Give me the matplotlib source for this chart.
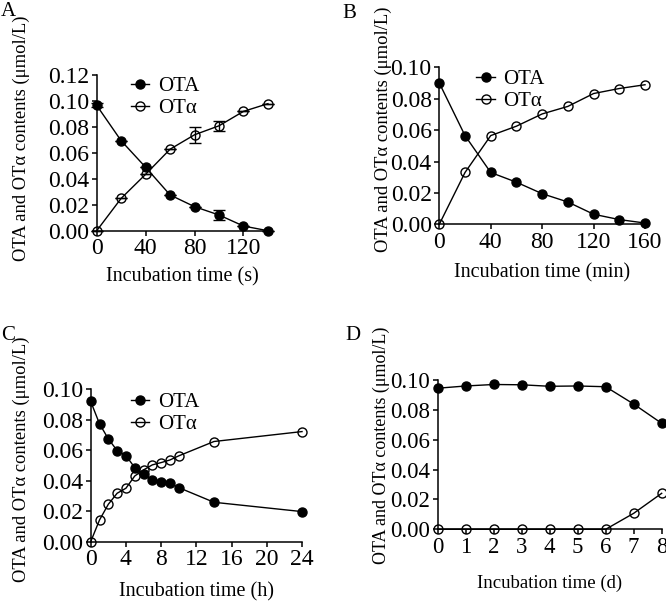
import numpy as np
import matplotlib
matplotlib.use('Agg')
import matplotlib.pyplot as plt

plt.rcParams['font.family'] = ['Liberation Serif', 'DejaVu Serif']
plt.rcParams['axes.unicode_minus'] = False

# Panel A: incubation time in seconds
t_a = [0, 20, 40, 60, 80, 100, 120, 140]
ota_a = [0.0964, 0.0692, 0.0488, 0.0275, 0.0185, 0.0121, 0.0036, 0.0000]
ota_a_err = [0.0015, 0.0, 0.0, 0.0, 0.0, 0.0036, 0.0, 0.0]
otal_a = [0.0000, 0.0249, 0.0434, 0.0627, 0.0738, 0.0807, 0.0918, 0.0977]
otal_a_err = [0.0, 0.0, 0.0, 0.0, 0.0062, 0.0039, 0.0, 0.0]

# Panel B: incubation time in minutes
t_b = [0, 20, 40, 60, 80, 100, 120, 140, 160]
ota_b = [0.0900, 0.0565, 0.0330, 0.0268, 0.0195, 0.0142, 0.0064, 0.0030, 0.0008]
otal_b = [0.0000, 0.0330, 0.0565, 0.0625, 0.0703, 0.0751, 0.0833, 0.0865, 0.0889]

# Panel C: incubation time in hours
t_c = [0, 1, 2, 3, 4, 5, 6, 7, 8, 9, 10, 14, 24]
ota_c = [0.0918, 0.0772, 0.0673, 0.0597, 0.0564, 0.0485, 0.0442, 0.0407,
         0.0393, 0.0383, 0.0354, 0.0258, 0.0197]
otal_c = [0.0000, 0.0142, 0.0245, 0.0317, 0.0350, 0.0430, 0.0470, 0.0503,
          0.0518, 0.0535, 0.0562, 0.0656, 0.0721]

# Panel D: incubation time in days
t_d = [0, 1, 2, 3, 4, 5, 6, 7, 8]
ota_d = [0.0945, 0.0960, 0.0970, 0.0968, 0.0958, 0.0960, 0.0955, 0.0839, 0.0710]
otal_d = [0, 0, 0, 0, 0, 0, 0, 0.0107, 0.0241]

fig = plt.figure(figsize=(6.66, 6.01), dpi=100)

panels = [
    # letter, rect, x, ota, otal, ota_err, otal_err, xlim, xticks, ylim, xlabel,
    # legend anchor, ylabel pos, xlabel y, xlabel size, ylabel size, tick size
    ('A', [0.1452, 0.6161, 0.2571, 0.2596], t_a, ota_a, otal_a, ota_a_err, otal_a_err,
     140, [0, 40, 80, 120], 0.12, 'Incubation time (s)', (0.15, 1.04), (-0.44, 0.59), -0.297, 14.5, 13.4, 17),
    ('B', [0.6596, 0.6268, 0.3089, 0.2612], t_b, ota_b, otal_b, None, None,
     160, [0, 40, 80, 120, 160], 0.10, 'Incubation time (min)', (0.14, 1.04), (-0.274, 0.607), -0.31, 14.5, 13.4, 17),
    ('C', [0.1362, 0.0987, 0.3173, 0.2541], t_c, ota_c, otal_c, None, None,
     24, [0, 4, 8, 12, 16, 20, 24], 0.10, 'Incubation time (h)', (0.15, 1.03), (-0.326, 0.54), -0.327, 14.5, 13.4, 17),
    ('D', [0.6572, 0.1193, 0.3363, 0.2484], t_d, ota_d, otal_d, None, None,
     8, list(range(9)), 0.10, 'Incubation time (d)', None, (-0.25, 0.565), -0.365, 13.5, 13.0, 16.5),
]

for (letter, rect, t, ota, otal, e1, e2, xmax, xticks, ymax, xlab,
     leg, ylpos, xly, fs, yfs, tfs) in panels:
    ax = fig.add_axes(rect)
    ax.errorbar(t, ota, yerr=e1, color='black', marker='o', ms=6.5,
                mfc='black', mec='black', lw=1.0, capsize=4, elinewidth=1.0,
                clip_on=False, label='OTA')
    ax.errorbar(t, otal, yerr=e2, color='black', marker='o', ms=6.5,
                mfc='none', mec='black', mew=1.0, lw=1.0, capsize=4,
                elinewidth=1.0, clip_on=False, label='OT\u03b1')
    ax.set_xlim(0, xmax)
    ax.set_ylim(0, ymax)
    ax.set_xticks(xticks)
    ax.set_yticks(np.arange(0, ymax + 0.001, 0.02))
    ax.yaxis.set_major_formatter(matplotlib.ticker.FormatStrFormatter('%.2f'))
    for s in ['top', 'right']:
        ax.spines[s].set_visible(False)
    for s in ['left', 'bottom']:
        ax.spines[s].set_linewidth(1.1)
    ax.tick_params(direction='out', length=3.5, width=1.1, pad=2,
                   labelsize=tfs)
    ax.set_xlabel(xlab, fontsize=fs)
    ax.set_ylabel('OTA and OT\u03b1 contents (\u03bcmol/L)', fontsize=yfs)
    ax.xaxis.label.set_va('center')
    ax.yaxis.label.set_va('center')
    ax.xaxis.set_label_coords(0.5, xly)
    ax.yaxis.set_label_coords(*ylpos)
    if leg is not None:
        h, l = ax.get_legend_handles_labels()
        h = [x[0] for x in h]
        ax.legend(h, l, loc='upper left', bbox_to_anchor=leg, frameon=False,
                  fontsize=15, handlelength=0.9, handletextpad=0.4,
                  labelspacing=0.12, borderaxespad=0)

letters = [('A', 0.001, 0.996), ('B', 0.514, 0.993), ('C', 0.001, 0.458), ('D', 0.518, 0.457)]
for txt, x, y in letters:
    fig.text(x, y, txt, fontsize=15, ha='left', va='top')

fig.savefig('out.png', dpi=100)
